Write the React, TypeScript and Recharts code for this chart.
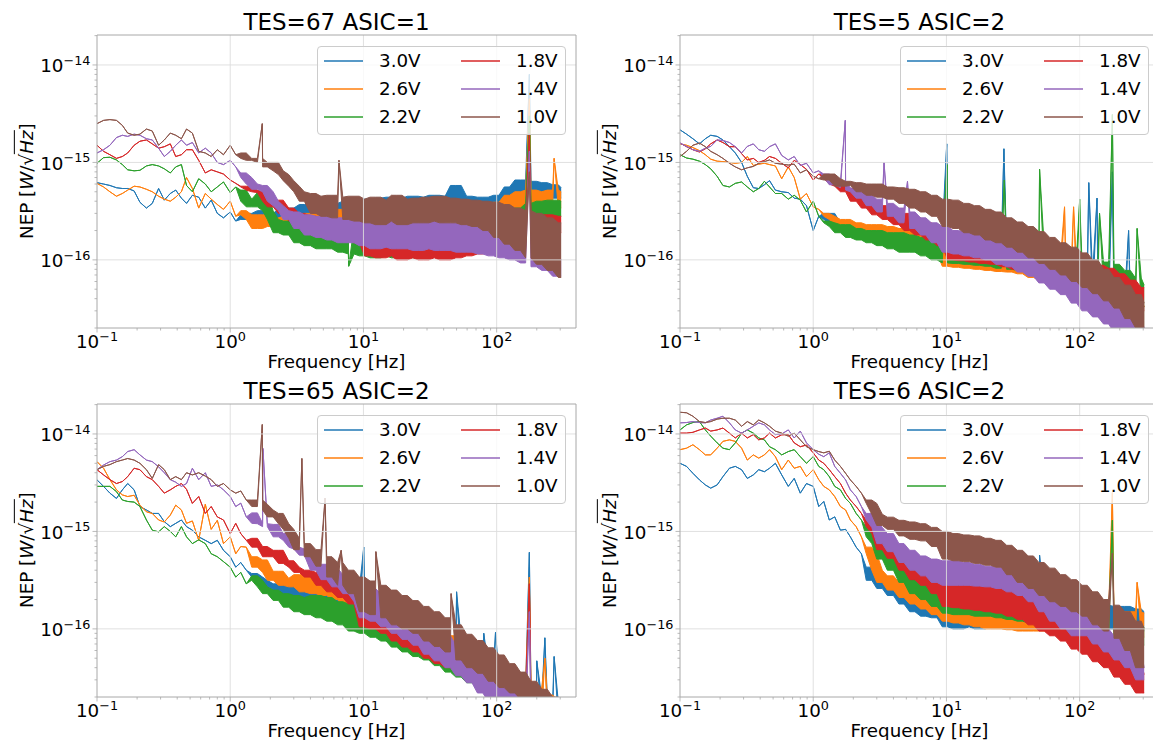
import { AreaChart, Area, XAxis, YAxis, ReferenceLine, Legend } from "recharts";

// ── Shared axes data ──
// NEP values are in units of 1e-16 W/sqrt(Hz); one value per FREQ entry
const FREQ = [
  0.1, 0.112, 0.125, 0.14, 0.155, 0.17, 0.19, 0.21, 0.235, 0.26, 0.29, 0.32, 0.355, 0.39, 0.43, 0.47, 0.52, 0.58, 0.65, 0.72, 0.8, 0.89,
  1.0, 1.1, 1.2, 1.32, 1.45, 1.6, 1.75, 1.9, 2.1, 2.3, 2.5, 2.75, 3.0, 3.3, 3.6, 4.0, 4.4, 4.8, 5.3, 5.8, 6.4, 7.0, 7.7, 8.5, 9.3,
  10.2, 11.2, 12.3, 13.5, 14.8, 16.2, 17.8, 19.5, 21.4, 23.5, 25.8, 28.3, 31, 34, 37.3, 41, 45, 49.4, 54.2, 59.5, 65.3, 71.7, 78.7, 86.4, 94.8,
  104, 114, 125, 137, 151, 165, 181, 199, 218, 240, 263, 290, 305,
];
const VOLTS = ["3.0V", "2.6V", "2.2V", "1.8V", "1.4V", "1.0V"];
const COLORS = ["#1f77b4", "#ff7f0e", "#2ca02c", "#d62728", "#9467bd", "#8c564b"];
const X_TICKS = [0.1, 0.2, 0.3, 0.4, 0.5, 0.6, 0.7, 0.8, 0.9, 1, 2, 3, 4, 5, 6, 7, 8, 9, 10, 20, 30, 40, 50, 60, 70, 80, 90, 100, 200, 300];
const Y_TICKS = [0.2, 0.3, 0.4, 0.5, 0.6, 0.7, 0.8, 0.9, 1, 2, 3, 4, 5, 6, 7, 8, 9, 10, 20, 30, 40, 50, 60, 70, 80, 90, 100, 200];

// ── TES=67 ASIC=1 ──
const TES67_V30 = [
  6.2, 6.0, 5.8, 5.5, 5.4, 5.4, 5.1, 3.9, 3.4, 3.8, 5.4, 4.1, 4.8, 5.2, 4.3, 3.8, 4.6, 4.4, 3.4, 4.1, 3.0, 2.7,
  3.1, 2.5, 2.9, 2.6, 3.0, 2.7, 3.2, 2.4, 3.0, 2.5, 3.3, 2.4, 3.4, 2.6, 3.7, 2.7, 3.6, 2.8, 3.9, 2.7, 3.8, 2.8, 4.0, 2.9, 3.9,
  3.2, 4.2, 3.0, 4.3, 3.1, 4.4, 3.0, 4.3, 3.2, 4.5, 3.1, 4.4, 3.3, 4.6, 3.2, 4.5, 3.3, 5.8, 3.3, 4.5, 3.2, 4.4, 3.2, 4.4, 3.3,
  4.6, 3.8, 5.6, 4.4, 6.6, 4.6, 6.4, 4.5, 6.2, 4.4, 5.9, 4.3, 5.5,
];
const TES67_V26 = [
  6.1, 5.6, 5.0, 4.5, 4.8, 5.2, 5.7, 5.6, 5.3, 5.0, 4.5, 4.2, 4.0, 4.4, 5.0, 7.0, 5.4, 3.4, 4.8, 4.2, 3.7, 3.3,
  4.0, 2.8, 3.2, 2.9, 2.6, 2.1, 2.9, 2.4, 2.2, 2.7, 2.2, 2.8, 2.1, 2.9, 2.2, 3.0, 2.3, 3.1, 2.3, 3.2, 2.4, 3.3, 2.4, 3.3, 2.5,
  2.6, 3.4, 2.5, 3.5, 2.6, 3.6, 2.5, 3.5, 2.6, 3.7, 2.7, 3.6, 2.6, 3.8, 2.7, 3.7, 2.8, 3.8, 2.7, 3.8, 2.8, 3.7, 2.8, 3.8, 2.9,
  3.9, 3.0, 4.6, 3.2, 5.0, 3.4, 5.2, 3.4, 5.0, 3.3, 5.2, 3.4, 5.0,
];
const TES67_V22 = [
  9.8, 11.2, 11.3, 10.6, 9.5, 8.4, 8.2, 8.3, 9.2, 9.5, 9.2, 8.6, 7.8, 9.0, 9.5, 5.8, 5.0, 6.8, 6.0, 5.0, 5.6, 6.3,
  4.9, 5.6, 5.2, 4.0, 3.5, 4.2, 4.9, 3.2, 2.6, 1.9, 2.5, 1.8, 2.4, 1.5, 2.3, 1.4, 2.4, 1.3, 2.3, 1.3, 2.2, 1.2, 2.2, 1.15, 2.2,
  1.1, 2.2, 1.05, 2.1, 1.1, 2.2, 1.05, 2.1, 1.1, 2.2, 1.05, 2.1, 1.1, 2.2, 1.1, 2.2, 1.15, 2.3, 1.2, 2.3, 1.25, 2.4, 1.35, 2.5, 1.5,
  2.6, 1.8, 3.0, 2.2, 3.4, 2.6, 3.8, 2.8, 4.0, 2.8, 4.1, 2.8, 4.0,
];
const TES67_V18 = [
  15, 13, 12, 11, 11.5, 12.5, 15, 16.5, 17, 15.5, 14, 14.5, 15.5, 11.5, 12, 13.5, 13.5, 10.5, 7.8, 8.4, 8.0, 7.6,
  6.6, 6.1, 5.7, 5.6, 5.2, 5.0, 4.9, 4.0, 3.5, 4.1, 3.0, 3.4, 2.5, 3.0, 2.1, 2.8, 1.9, 2.6, 1.8, 2.5, 1.7, 2.4, 1.6, 2.3, 1.5,
  2.1, 1.1, 2.0, 1.05, 2.1, 1.1, 2.0, 1.0, 2.0, 1.05, 1.9, 1.0, 2.0, 1.05, 1.9, 1.0, 2.0, 1.05, 2.0, 1.1, 2.0, 1.15, 2.1, 1.2, 2.2,
  1.3, 2.3, 1.5, 2.5, 1.7, 2.7, 1.85, 2.8, 1.9, 2.9, 1.9, 2.8, 1.9,
];
const TES67_V14 = [
  12.5, 13.5, 15, 18, 19, 18.5, 19.5, 19, 17.5, 17, 14, 11.5, 13, 15, 17, 15, 16, 12.5, 14, 12.5, 10, 9.5,
  10.5, 9.0, 7.8, 7.0, 6.0, 5.3, 5.8, 5.0, 4.0, 3.6, 3.2, 2.6, 3.1, 2.1, 2.9, 1.8, 2.8, 1.7, 2.8, 1.6, 2.7, 1.5, 2.7, 1.5, 2.6,
  1.4, 2.6, 1.3, 2.5, 1.35, 2.6, 1.3, 2.5, 1.3, 2.6, 1.25, 2.5, 1.3, 2.5, 1.25, 2.4, 1.25, 2.4, 1.2, 2.3, 1.2, 2.2, 1.15, 2.1, 1.1,
  2.0, 1.05, 1.8, 1.0, 1.6, 0.93, 1.45, 0.85, 1.3, 0.78, 1.15, 0.68, 1.0,
];
const TES67_V10 = [
  25, 27, 27.5, 27, 24, 20, 19, 19.5, 22, 21, 15, 17, 20, 19, 17.5, 22, 20, 13, 12.5, 11.5, 13.5, 12,
  15, 12, 12.5, 11, 10.5, 11, 10, 9.0, 10, 8.2, 7.5, 6.5, 5.7, 5.0, 4.0, 4.8, 3.0, 4.5, 2.8, 4.6, 2.7, 4.4, 2.6, 4.5, 2.5,
  4.2, 2.4, 4.4, 2.3, 4.1, 2.5, 4.6, 2.3, 4.2, 2.4, 4.3, 2.4, 4.4, 2.5, 4.5, 2.4, 4.3, 2.4, 4.2, 2.3, 4.1, 2.2, 4.0, 2.0, 3.9,
  1.7, 3.7, 1.45, 3.4, 1.25, 3.2, 1.05, 3.0, 0.9, 2.7, 0.78, 2.4, 0.66,
];
// narrow lines between grid frequencies: [series index, frequency, NEP]
const TES67_PEAKS = [
  [5, 1.74, 25], [5, 6.55, 10.5], [2, 7.75, 0.86], [0, 176, 80], [1, 176, 45], [2, 176, 30], [3, 176, 20], [4, 176, 13],
  [5, 176, 8], [1, 270, 11],
];

// ── TES=5 ASIC=2 ──
const TES5_V30 = [
  21.6, 19.5, 17.5, 15.5, 17.5, 19, 18.5, 17, 14.5, 12.5, 10, 7.2, 5.5, 5.4, 5.9, 6.5, 5.2, 5.0, 4.9, 4.3, 4.2, 3.6,
  2.0, 2.8, 2.6, 3.0, 2.4, 2.0, 2.4, 1.9, 2.3, 1.7, 2.2, 1.6, 2.2, 1.6, 2.1, 1.5, 2.1, 1.5, 2.0, 1.4, 2.0, 1.4, 1.9, 1.3, 1.9,
  1.0, 1.8, 0.95, 1.7, 0.9, 1.6, 0.88, 1.5, 0.85, 1.5, 0.82, 1.4, 0.8, 1.35, 0.75, 1.3, 0.7, 1.2, 0.65, 1.1, 0.6, 1.0, 0.55, 0.9, 0.48,
  0.82, 0.42, 0.72, 0.38, 0.62, 0.32, 0.52, 0.28, 0.45, 0.24, 0.38, 0.2, 0.33,
];
const TES5_V26 = [
  15.5, 15, 14.2, 13.2, 12, 10.8, 10.3, 10.2, 10, 9.8, 10, 11.5, 9.3, 9.6, 9.8, 9.5, 9.2, 6.8, 9.0, 7.0, 4.2, 4.8,
  3.5, 3.3, 3.0, 2.8, 2.6, 2.2, 2.6, 2.0, 2.4, 1.8, 2.3, 1.7, 2.3, 1.6, 2.2, 1.5, 2.1, 1.4, 2.0, 1.4, 1.9, 1.3, 1.8, 1.2, 1.8,
  0.86, 1.6, 0.84, 1.5, 0.82, 1.45, 0.8, 1.4, 0.78, 1.38, 0.76, 1.32, 0.75, 1.28, 0.72, 1.22, 0.66, 1.15, 0.62, 1.08, 0.58, 1.0, 0.52, 0.9, 0.46,
  0.8, 0.42, 0.7, 0.36, 0.62, 0.32, 0.55, 0.28, 0.48, 0.24, 0.4, 0.2, 0.33,
];
const TES5_V22 = [
  12, 11.1, 10.8, 10.3, 9.5, 8.6, 7.2, 5.8, 5.6, 6.1, 6.3, 5.6, 5.0, 5.4, 6.4, 5.6, 4.8, 4.8, 4.2, 4.6, 4.1, 3.1,
  4.0, 2.8, 2.5, 2.4, 2.2, 1.9, 2.3, 1.7, 2.1, 1.6, 2.0, 1.5, 2.0, 1.4, 1.9, 1.3, 1.9, 1.2, 1.8, 1.2, 1.7, 1.1, 1.6, 1.0, 1.5,
  0.93, 1.5, 0.92, 1.48, 0.9, 1.46, 0.88, 1.45, 0.86, 1.44, 0.82, 1.42, 0.8, 1.4, 0.78, 1.4, 0.74, 1.38, 0.7, 1.3, 0.66, 1.2, 0.6, 1.1, 0.56,
  1.0, 0.54, 0.98, 0.52, 0.95, 0.5, 0.9, 0.45, 0.78, 0.4, 0.65, 0.33, 0.55,
];
const TES5_V18 = [
  15.8, 14.5, 13.5, 12.8, 13.8, 15.5, 17, 16, 14.5, 14.5, 12.3, 10.6, 11, 10, 10.5, 11.5, 11, 9.8, 8.8, 10.5, 9.5, 8.5,
  6.6, 7.6, 7.5, 6.8, 6.0, 5.7, 5.0, 5.4, 4.0, 4.6, 3.4, 4.0, 2.9, 3.6, 2.6, 3.2, 2.3, 3.0, 2.0, 2.7, 1.8, 2.4, 1.6, 2.2, 1.4,
  1.9, 1.0, 1.8, 0.98, 1.75, 0.95, 1.7, 0.92, 1.65, 0.9, 1.55, 0.85, 1.45, 0.8, 1.4, 0.76, 1.35, 0.7, 1.3, 0.66, 1.2, 0.6, 1.1, 0.55, 0.98,
  0.55, 0.92, 0.52, 0.88, 0.5, 0.82, 0.46, 0.72, 0.4, 0.62, 0.34, 0.52, 0.3,
];
const TES5_V14 = [
  15.8, 14.6, 13.5, 13, 14, 14.6, 17, 16.8, 16, 14.5, 12.5, 14.6, 15.5, 13.5, 13, 14.5, 15.5, 11.8, 10.6, 11.5, 9.3, 9.8,
  7.8, 8.2, 7.6, 7.0, 5.9, 6.3, 5.5, 5.2, 5.0, 4.3, 4.7, 3.6, 4.2, 3.1, 3.8, 2.8, 3.4, 2.4, 3.1, 2.1, 2.7, 1.8, 2.4, 1.5, 2.2,
  1.2, 2.0, 1.15, 1.95, 1.1, 1.9, 1.05, 1.85, 1.0, 1.75, 0.9, 1.65, 0.85, 1.55, 0.75, 1.4, 0.68, 1.25, 0.58, 1.1, 0.5, 0.95, 0.44, 0.8, 0.36,
  0.65, 0.3, 0.55, 0.26, 0.45, 0.22, 0.38, 0.18, 0.31, 0.15, 0.25, 0.12, 0.2,
];
const TES5_V10 = [
  11.5, 13, 15, 15.8, 14.5, 13, 12, 11, 9.8, 9.0, 8.4, 8.8, 9.1, 9.8, 10.2, 10.6, 9.8, 9.6, 9.4, 9.6, 7.8, 8.4,
  7.2, 6.8, 6.6, 7.6, 6.8, 5.7, 6.4, 5.8, 6.2, 5.0, 6.0, 4.6, 6.0, 4.4, 5.6, 4.2, 5.5, 3.8, 5.3, 3.4, 5.0, 3.1, 4.6, 2.8, 4.2,
  2.2, 4.1, 2.1, 3.8, 1.9, 3.6, 1.8, 3.3, 1.6, 3.1, 1.5, 2.7, 1.35, 2.45, 1.2, 2.2, 1.05, 1.95, 0.92, 1.7, 0.8, 1.5, 0.7, 1.35, 0.6,
  1.18, 0.52, 1.0, 0.45, 0.8, 0.38, 0.66, 0.32, 0.55, 0.25, 0.44, 0.2, 0.36,
];
const TES5_PEAKS = [
  [4, 1.74, 27], [4, 3.4, 10], [4, 5.1, 6.4], [0, 10.05, 15.5], [2, 10.1, 9.5], [0, 27, 13.8], [2, 27.2, 6.6], [2, 50, 8.5],
  [1, 77, 3.5], [1, 90, 3.5], [2, 100, 4.2], [0, 117, 6.2], [0, 135, 4.3], [2, 141, 3.0], [2, 176, 31], [0, 176, 8],
  [0, 233, 2.0], [2, 270, 2.1],
];

// ── TES=65 ASIC=2 ──
const TES65_V30 = [
  33.8, 29, 24.7, 21.8, 26.7, 31, 26.7, 18, 16.6, 15.3, 15.3, 12.6, 11.2, 12.1, 13.1, 11.2, 10.3, 8.8, 8.1, 7.5, 8.1, 6.4,
  5.5, 4.3, 4.8, 4.0, 3.7, 3.4, 3.15, 2.7, 2.9, 2.5, 2.9, 2.2, 2.8, 2.1, 2.7, 2.0, 3.0, 2.0, 3.2, 2.0, 3.0, 1.8, 2.7, 1.5, 2.5,
  1.2, 2.3, 1.1, 2.0, 1.0, 1.8, 0.85, 1.5, 0.75, 1.3, 0.68, 1.15, 0.6, 1.0, 0.5, 0.85, 0.44, 0.78, 0.38, 0.62, 0.32, 0.52, 0.28, 0.44, 0.23,
  0.36, 0.2, 0.31, 0.18, 0.27, 0.16, 0.24, 0.14, 0.2, 0.13, 0.18, 0.12, 0.16,
];
const TES65_V26 = [
  52, 44.5, 34, 26.7, 23.7, 22.8, 23.5, 18.6, 15.9, 15.3, 13.1, 12.5, 14.7, 18.6, 16.6, 12.1, 12.8, 8.1, 19, 10.5, 13, 7.5,
  8.8, 5.9, 7.0, 6.9, 5.5, 4.3, 5.1, 3.8, 3.15, 3.9, 2.8, 3.3, 2.7, 3.6, 2.4, 3.4, 2.3, 3.6, 2.2, 3.4, 2.0, 3.0, 1.7, 2.6, 1.5,
  2.4, 1.2, 2.1, 1.05, 1.85, 0.95, 1.6, 0.8, 1.4, 0.72, 1.25, 0.62, 1.1, 0.55, 0.95, 0.48, 0.85, 0.42, 0.72, 0.36, 0.62, 0.3, 0.54, 0.26, 0.46,
  0.22, 0.4, 0.19, 0.34, 0.17, 0.29, 0.15, 0.25, 0.13, 0.21, 0.12, 0.18, 0.11,
];
const TES65_V22 = [
  29, 29, 29, 25.6, 21, 20.3, 20, 18, 13.1, 10.3, 9.9, 11.2, 10, 8.8, 11.2, 8.8, 7.5, 8.2, 7.5, 5.9, 5.5, 4.9,
  4.3, 3.4, 3.8, 2.9, 3.5, 3.15, 2.7, 2.3, 2.5, 1.96, 2.3, 1.67, 2.2, 1.5, 2.1, 1.4, 2.2, 1.3, 2.1, 1.2, 1.9, 1.1, 1.8, 0.95, 1.7,
  0.9, 1.7, 0.82, 1.5, 0.75, 1.35, 0.65, 1.2, 0.58, 1.05, 0.52, 0.95, 0.48, 0.88, 0.42, 0.78, 0.36, 0.7, 0.32, 0.6, 0.28, 0.5, 0.24, 0.42, 0.2,
  0.35, 0.18, 0.3, 0.16, 0.26, 0.14, 0.22, 0.12, 0.19, 0.11, 0.16, 0.1, 0.14,
];
const TES65_V18 = [
  43, 38, 34, 31, 32.5, 36.5, 44.5, 43, 36.5, 34, 29, 24.7, 26.7, 29, 31, 27, 19.4, 22.8, 15.3, 18, 14.1, 13.1,
  9.5, 12.1, 9.5, 8.1, 8.5, 6.9, 7.0, 5.5, 6.0, 6.4, 4.7, 5.0, 4.3, 3.8, 4.0, 3.4, 3.8, 2.8, 3.6, 2.4, 3.2, 2.1, 2.8, 1.8, 2.3,
  1.05, 2.0, 1.0, 1.8, 0.9, 1.6, 0.75, 1.35, 0.65, 1.2, 0.58, 1.0, 0.5, 0.85, 0.44, 0.76, 0.4, 0.68, 0.35, 0.58, 0.3, 0.48, 0.25, 0.4, 0.21,
  0.33, 0.18, 0.28, 0.16, 0.24, 0.14, 0.21, 0.12, 0.18, 0.11, 0.15, 0.1, 0.13,
];
const TES65_V14 = [
  43, 48, 52, 54, 58.5, 66, 69, 61, 54, 52, 46, 40, 34, 32, 29, 31, 44.5, 34, 40, 29, 30, 26.7,
  22.8, 18, 19.5, 14.1, 15.5, 12.1, 12, 11.2, 11.8, 8.8, 9.5, 8.1, 6.9, 6.6, 5.7, 5.8, 4.0, 4.6, 3.2, 4.2, 2.7, 3.6, 2.3, 3.1, 1.9,
  1.3, 2.6, 1.2, 2.3, 1.05, 2.0, 0.9, 1.6, 0.78, 1.4, 0.68, 1.2, 0.55, 1.0, 0.47, 0.85, 0.4, 0.68, 0.33, 0.55, 0.28, 0.42, 0.22, 0.34, 0.18,
  0.27, 0.15, 0.22, 0.13, 0.18, 0.12, 0.15, 0.1, 0.13, 0.09, 0.11, 0.08, 0.1,
];
const TES65_V10 = [
  43, 46.5, 48.5, 52, 54, 56, 54, 50, 43, 35, 48.5, 43, 34, 36.5, 34, 40, 38, 40, 37, 34, 29, 31,
  26.7, 24.7, 26, 21, 18, 21, 19, 16.6, 14.1, 15.3, 12, 10.5, 8.5, 6.5, 7.5, 5.5, 6.5, 4.4, 5.5, 3.4, 4.8, 2.8, 4.0, 2.3, 3.4,
  1.5, 3.1, 1.4, 2.8, 1.3, 2.5, 1.1, 2.2, 1.0, 1.95, 0.9, 1.7, 0.75, 1.5, 0.66, 1.3, 0.58, 1.1, 0.48, 0.88, 0.4, 0.76, 0.35, 0.64, 0.29,
  0.54, 0.25, 0.44, 0.22, 0.36, 0.19, 0.29, 0.16, 0.24, 0.14, 0.2, 0.12, 0.17,
];
const TES65_PEAKS = [
  [5, 1.74, 125], [4, 1.76, 71], [5, 3.45, 56], [5, 5.15, 22], [5, 6.8, 6.4], [0, 10.05, 6.9], [5, 12.4, 6.2], [5, 45.5, 2.3],
  [0, 50, 2.4], [0, 80, 0.9], [0, 98, 0.92], [0, 176, 6.1], [1, 176, 3.4], [3, 176, 2.9], [4, 176, 1.5], [0, 200, 0.47],
  [0, 230, 0.81], [1, 230, 0.5], [0, 270, 0.52],
];

// ── TES=6 ASIC=2 ──
const TES6_V30 = [
  50, 46.5, 39.5, 33.8, 30, 27.8, 30, 36.5, 44.5, 46.5, 43, 35, 38, 43, 41, 44.5, 50, 38, 29, 35, 24.7, 31,
  29, 18, 20.3, 13.1, 14.1, 10.3, 10.5, 8.8, 6.9, 5.9, 4.3, 3.15, 3.4, 2.6, 3.3, 2.2, 3.0, 1.8, 2.6, 1.5, 2.4, 1.35, 2.2, 1.3, 2.1,
  1.05, 2.2, 1.0, 2.1, 1.05, 2.0, 1.0, 1.95, 1.05, 1.95, 1.1, 2.0, 1.1, 2.0, 1.1, 2.0, 1.15, 2.0, 1.1, 1.95, 1.1, 1.9, 1.1, 1.85, 1.05,
  1.8, 1.05, 1.75, 1.05, 1.75, 1.0, 1.7, 1.0, 1.7, 0.98, 1.6, 0.95, 1.5,
];
const TES6_V26 = [
  69, 71.5, 77.5, 69, 61, 61, 71.5, 84, 87, 84, 71.5, 54, 61, 56.5, 61, 69, 58.5, 43, 54, 44.5, 46.5, 36.5,
  43, 34, 29, 26.7, 22.8, 18, 16.6, 13.1, 11.2, 8.8, 6.9, 5.9, 4.0, 3.0, 3.5, 2.5, 3.0, 2.1, 2.7, 1.8, 2.4, 1.6, 2.2, 1.4, 2.1,
  1.2, 2.2, 1.15, 2.1, 1.1, 2.0, 1.05, 1.95, 1.0, 1.9, 1.0, 1.85, 0.98, 1.8, 0.95, 1.8, 0.95, 1.75, 0.95, 1.7, 0.92, 1.65, 0.92, 1.6, 0.9,
  1.6, 0.9, 1.55, 0.88, 1.55, 0.88, 1.5, 0.86, 1.5, 0.85, 1.5, 0.82, 1.45,
];
const TES6_V22 = [
  110, 124, 131, 134, 110, 95, 81, 71.5, 69, 81, 102, 110, 102, 91, 87, 74, 69, 61, 66, 69, 58.5, 50,
  58.5, 46.5, 43, 36.5, 29, 26.7, 21.8, 19.4, 15.3, 13.1, 11.2, 8.8, 7.5, 5.2, 6.2, 4.0, 5.0, 3.0, 3.8, 2.3, 3.3, 2.0, 2.9, 1.7, 2.6,
  1.45, 2.3, 1.4, 2.25, 1.4, 2.2, 1.35, 2.2, 1.35, 2.1, 1.3, 2.05, 1.25, 2.0, 1.2, 1.95, 1.15, 1.9, 1.12, 1.8, 1.08, 1.7, 1.05, 1.65, 1.0,
  1.55, 0.95, 1.45, 0.9, 1.35, 0.85, 1.25, 0.78, 1.2, 0.74, 1.1, 0.68, 1.04,
];
const TES6_V18 = [
  102, 102, 104, 110, 115, 107, 110, 115, 102, 91, 102, 91, 98.5, 87, 91, 102, 91, 98, 98.5, 81, 74, 77,
  64, 54, 50, 43, 36.5, 31, 24.7, 21, 18, 15.3, 13.1, 11.2, 9.5, 6.5, 8.0, 5.3, 6.3, 4.0, 5.0, 3.2, 4.3, 2.8, 3.8, 2.3, 3.3,
  1.7, 3.1, 1.65, 3.0, 1.6, 3.0, 1.55, 2.9, 1.5, 2.7, 1.45, 2.5, 1.35, 2.3, 1.25, 2.1, 1.1, 1.8, 0.95, 1.6, 0.85, 1.4, 0.75, 1.25, 0.62,
  1.05, 0.55, 0.9, 0.46, 0.8, 0.4, 0.68, 0.32, 0.56, 0.27, 0.45, 0.22, 0.34,
];
const TES6_V14 = [
  130, 131, 134, 131, 130, 139, 145, 152, 130, 110, 102, 110, 120, 130, 124, 110, 98.5, 100, 110, 91, 107, 81,
  69, 62, 58.5, 64, 46.5, 39.5, 33.8, 26.7, 22.8, 18, 15.3, 13.1, 11, 7.5, 9.5, 6.2, 7.5, 4.8, 6.4, 4.0, 5.6, 3.5, 5.2, 3.0, 5.0,
  2.8, 5.0, 2.8, 4.8, 2.8, 4.6, 2.75, 4.4, 2.7, 4.3, 2.6, 4.1, 2.4, 3.8, 2.2, 3.4, 1.9, 3.0, 1.5, 2.4, 1.2, 2.0, 1.0, 1.7, 0.85,
  1.45, 0.85, 1.2, 0.7, 1.0, 0.58, 0.85, 0.48, 0.72, 0.4, 0.58, 0.3, 0.4,
];
const TES6_V10 = [
  167, 165, 152, 134, 131, 134, 142, 145, 145, 139, 120, 134, 124, 139, 130, 120, 107, 102, 95, 102, 87, 74,
  69, 66, 64, 66.5, 54, 46.5, 39.5, 33.8, 29, 24.7, 21, 19.4, 15, 11.5, 14, 10.5, 13, 9.0, 12.5, 8.3, 12, 8.0, 11, 7.0, 10,
  5.2, 9.5, 5.0, 9.2, 4.9, 9.0, 4.7, 8.5, 4.5, 8.1, 4.3, 7.2, 3.6, 6.4, 3.0, 5.6, 2.6, 4.8, 2.2, 4.2, 1.9, 3.6, 1.7, 3.2, 1.5,
  2.8, 1.35, 2.4, 1.1, 2.0, 0.95, 1.75, 0.8, 1.5, 0.6, 1.2, 0.4, 1.0,
];
const TES6_PEAKS = [[1, 176, 25], [2, 176, 13], [5, 176, 6], [0, 50, 5.7], [1, 270, 3.0]];

// ── Styling / layout ──
const FONT = '"DejaVu Sans", "Liberation Sans", sans-serif';
const SPINE = "#a8a8a8";
const GRID = "#dcdcdc";
const PLOT_LEFT = 97;
const PLOT_TOP = 35;
const PLOT_W = 479;
const PLOT_H = 293;
const Y_AXIS_W = 60;
const CHART_W = 580;
const CHART_H = 373;
const X_MAX = 394;
const Y_MIN = 0.2;
const Y_MAX = 203;

// Each trace is drawn as the strip it sweeps between neighbouring samples, so the
// fast-fluctuating part (from grid index `noisyFrom`) reads as the dense band it is.
function toTrace(values: number[], peaks: number[][], idx: number, noisyFrom: number) {
  const pts = FREQ.map((f, i) => {
    const v = values[i];
    if (i < noisyFrom) return { f, band: [v, v] };
    const win = values.slice(Math.max(i - 1, noisyFrom), i + 2);
    return { f, band: [Math.min(...win), Math.max(...win)] };
  });
  peaks.filter((p) => p[0] === idx).forEach((p) => pts.push({ f: p[1], band: [p[2], p[2]] }));
  return pts.sort((a, b) => a.f - b.f);
}

function sup(n: number) {
  return n < 0 ? "\u2212" + Math.abs(n) : String(n);
}

function isDecade(v: number) {
  const e = Math.log10(v);
  return Math.abs(e - Math.round(e)) < 1e-9;
}

function XTick({ x, y, payload }: any) {
  const major = isDecade(payload.value);
  return (
    <g>
      <line x1={x} x2={x} y1={y} y2={y + (major ? 4.5 : 2.5)} stroke={SPINE} strokeWidth={0.8} />
      {major && (
        <text x={x} y={y + 20.3} textAnchor="middle" fontFamily={FONT} fontSize={18.3} fill="#000">
          10<tspan fontSize={12.8} dy={-7.5}>{sup(Math.round(Math.log10(payload.value)))}</tspan>
        </text>
      )}
    </g>
  );
}

function YTick({ x, y, payload }: any) {
  const major = isDecade(payload.value);
  return (
    <g>
      <line x1={x} x2={x - (major ? 4.5 : 2.5)} y1={y} y2={y} stroke={SPINE} strokeWidth={0.8} />
      {major && (
        <text x={x - 6.5} y={y + 7.3} textAnchor="end" fontFamily={FONT} fontSize={18.3} fill="#000">
          10<tspan fontSize={12.8} dy={-7.5}>{sup(Math.round(Math.log10(payload.value)) - 16)}</tspan>
        </text>
      )}
    </g>
  );
}

function LegendBox() {
  return (
    <div
      style={{
        position: "relative",
        width: 249,
        height: 89,
        boxSizing: "border-box",
        background: "rgba(255,255,255,0.8)",
        border: "1px solid #cccccc",
        borderRadius: 4,
        fontFamily: FONT,
        fontSize: 18.3,
        color: "#000",
      }}
    >
      {VOLTS.map((label, i) => (
        <div
          key={label}
          style={{
            position: "absolute",
            left: 6 + Math.floor(i / 3) * 137,
            top: 4 + (i % 3) * 28,
            height: 20,
            display: "flex",
            alignItems: "center",
            whiteSpace: "nowrap",
          }}
        >
          <svg width={39} height={20} style={{ display: "block" }}>
            <line x1={0} x2={39} y1={10} y2={10} stroke={COLORS[i]} strokeWidth={1.4} />
          </svg>
          <span style={{ marginLeft: 16, lineHeight: "18px" }}>{label}</span>
        </div>
      ))}
    </div>
  );
}

function Panel({
  title,
  series,
  peaks,
  noisyFrom,
  left,
  top,
}: {
  title: string;
  series: number[][];
  peaks: number[][];
  noisyFrom: number;
  left: number;
  top: number;
}) {
  const cx = PLOT_LEFT + PLOT_W / 2;
  const cy = PLOT_TOP + PLOT_H / 2;
  return (
    <div style={{ position: "absolute", left, top, width: CHART_W, height: CHART_H }}>
      <AreaChart
        width={CHART_W}
        height={CHART_H}
        margin={{ top: PLOT_TOP, right: CHART_W - PLOT_LEFT - PLOT_W, bottom: 0, left: PLOT_LEFT - Y_AXIS_W }}
      >
        <XAxis
          dataKey="f"
          type="number"
          scale="log"
          domain={[0.1, X_MAX]}
          allowDataOverflow
          ticks={X_TICKS}
          interval={0}
          tick={(p: any) => <XTick {...p} />}
          tickLine={false}
          tickSize={0}
          tickMargin={0}
          axisLine={{ stroke: SPINE }}
          height={CHART_H - PLOT_TOP - PLOT_H}
        />
        <YAxis
          type="number"
          scale="log"
          domain={[Y_MIN, Y_MAX]}
          allowDataOverflow
          ticks={Y_TICKS}
          interval={0}
          tick={(p: any) => <YTick {...p} />}
          tickLine={false}
          tickSize={0}
          tickMargin={0}
          axisLine={{ stroke: SPINE }}
          width={Y_AXIS_W}
        />
        {[1, 10, 100].map((v) => (
          <ReferenceLine key={"gx" + v} x={v} stroke={GRID} strokeWidth={0.9} />
        ))}
        {[1, 10, 100].map((v) => (
          <ReferenceLine key={"gy" + v} y={v} stroke={GRID} strokeWidth={0.9} />
        ))}
        <ReferenceLine x={X_MAX} stroke={SPINE} />
        <ReferenceLine y={Y_MAX} stroke={SPINE} />
        {series.map((vals, i) => (
          <Area
            key={VOLTS[i]}
            data={toTrace(vals, peaks, i, noisyFrom)}
            dataKey="band"
            name={VOLTS[i]}
            type="linear"
            stroke={COLORS[i]}
            strokeWidth={1}
            fill={COLORS[i]}
            fillOpacity={1}
            dot={false}
            activeDot={false}
            isAnimationActive={false}
          />
        ))}
        <Legend
          content={() => <LegendBox />}
          layout="horizontal"
          verticalAlign="middle"
          align="center"
          wrapperStyle={{ left: PLOT_LEFT + 220, top: PLOT_TOP + 11, width: 249, height: 89 }}
        />
      </AreaChart>
      <div
        style={{
          position: "absolute",
          left: cx - 300,
          top: PLOT_TOP - 4.3 - 0.846 * 23,
          width: 600,
          textAlign: "center",
          fontFamily: FONT,
          fontSize: 23,
          lineHeight: "23px",
          whiteSpace: "nowrap",
        }}
      >
        {title}
      </div>
      <div
        style={{
          position: "absolute",
          left: cx - 300,
          top: PLOT_TOP + PLOT_H + 40.3 - 0.846 * 18.3,
          width: 600,
          textAlign: "center",
          fontFamily: FONT,
          fontSize: 18.3,
          lineHeight: "18.3px",
          whiteSpace: "nowrap",
        }}
      >
        Frequency [Hz]
      </div>
      <div
        style={{
          position: "absolute",
          left: 27 - 150,
          top: cy - 9.15,
          width: 300,
          height: 18.3,
          textAlign: "center",
          fontFamily: FONT,
          fontSize: 18.3,
          lineHeight: "18.3px",
          whiteSpace: "nowrap",
          transform: "rotate(-90deg)",
        }}
      >
        NEP [<i>W</i>/√<span style={{ borderTop: "1.2px solid #000", paddingTop: 1 }}><i>Hz</i></span>]
      </div>
    </div>
  );
}

export default function App() {
  return (
    <div style={{ position: "absolute", left: 0, top: 0, width: 1153, height: 740, overflow: "hidden", background: "#fff" }}>
      <Panel
        title="TES=67 ASIC=1"
        series={[TES67_V30, TES67_V26, TES67_V22, TES67_V18, TES67_V14, TES67_V10]}
        peaks={TES67_PEAKS}
        noisyFrom={24}
        left={0}
        top={0}
      />
      <Panel
        title="TES=5 ASIC=2"
        series={[TES5_V30, TES5_V26, TES5_V22, TES5_V18, TES5_V14, TES5_V10]}
        peaks={TES5_PEAKS}
        noisyFrom={24}
        left={583}
        top={0}
      />
      <Panel
        title="TES=65 ASIC=2"
        series={[TES65_V30, TES65_V26, TES65_V22, TES65_V18, TES65_V14, TES65_V10]}
        peaks={TES65_PEAKS}
        noisyFrom={26}
        left={0}
        top={369}
      />
      <Panel
        title="TES=6 ASIC=2"
        series={[TES6_V30, TES6_V26, TES6_V22, TES6_V18, TES6_V14, TES6_V10]}
        peaks={TES6_PEAKS}
        noisyFrom={32}
        left={583}
        top={369}
      />
    </div>
  );
}
